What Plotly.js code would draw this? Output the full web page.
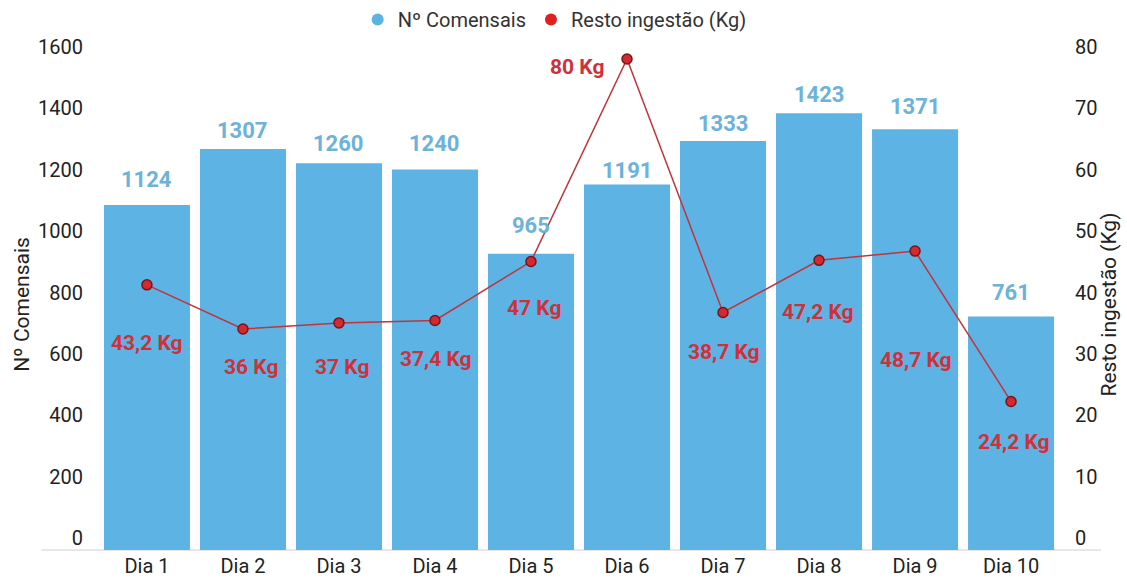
<!DOCTYPE html>
<html>
<head>
<meta charset="utf-8">
<script src="https://cdn.plot.ly/plotly-3.0.1.min.js"></script>
<style>html,body{margin:0;padding:0;background:#fff;}#chart{width:1127px;height:578px;}</style>
</head>
<body>
<div id="chart"></div>
<script>
// ---- data ----
const days = ['Dia 1','Dia 2','Dia 3','Dia 4','Dia 5','Dia 6','Dia 7','Dia 8','Dia 9','Dia 10'];
const comensais = [1124, 1307, 1260, 1240, 965, 1191, 1333, 1423, 1371, 761];
const resto = [43.2, 36, 37, 37.4, 47, 80, 38.7, 47.2, 48.7, 24.2];
const restoLabels = ['43,2 Kg','36 Kg','37 Kg','37,4 Kg','47 Kg','80 Kg','38,7 Kg','47,2 Kg','48,7 Kg','24,2 Kg'];
const leftTicks = [0, 200, 400, 600, 800, 1000, 1200, 1400, 1600];
const rightTicks = [0, 10, 20, 30, 40, 50, 60, 70, 80];

// ---- label placement (pixels) ----
const barLabelLift = [26, 18, 20, 26, 28, 14, 17, 19, 23, 24];
const restoLabelDx = [0, 8, 3, 1, 3, -50, 1, -1, 1, 3];
const restoLabelDy = [-58, -38, -44, -39, -46, -8, -40, -52, -109, -41];

const BLUE = '#5DB3E3';
const BLUE_TXT = '#6DB2D8';
const RED = '#D0303A';
const FONT = 'Roboto, "Noto Sans", Arial, sans-serif';

const traces = [
  {
    type: 'bar', x: days, y: comensais, name: 'Nº Comensais',
    marker: {color: BLUE}, showlegend: false, hoverinfo: 'x+y'
  },
  {
    type: 'scatter', mode: 'lines+markers', x: days, y: resto, yaxis: 'y2',
    name: 'Resto ingestão (Kg)', showlegend: false, cliponaxis: false,
    line: {color: '#C0343A', width: 1.5},
    marker: {size: 10, color: '#D12A30', line: {color: '#7A1418', width: 1.5}}
  },
  {
    type: 'scatter', mode: 'markers', x: [null], y: [null], name: 'Nº Comensais',
    marker: {size: 12, color: BLUE}, showlegend: true
  },
  {
    type: 'scatter', mode: 'markers', x: [null], y: [null], name: 'Resto ingestão (Kg)',
    marker: {size: 12, color: '#E02020'}, showlegend: true
  }
];

const annotations = [];
days.forEach((d, i) => {
  annotations.push({
    xref: 'x', yref: 'y', x: d, y: comensais[i], text: String(comensais[i]),
    showarrow: false, yanchor: 'middle', xanchor: 'center', yshift: barLabelLift[i],
    font: {family: FONT, size: 22, color: BLUE_TXT, weight: 'bold'}
  });
  annotations.push({
    xref: 'x', yref: 'y2', x: d, y: resto[i], text: restoLabels[i],
    showarrow: false, yanchor: 'middle', xanchor: 'center',
    xshift: restoLabelDx[i], yshift: restoLabelDy[i],
    font: {family: FONT, size: 21, color: RED, weight: 'bold'}
  });
});

const layout = {
  width: 1127, height: 578,
  margin: {l: 92, r: 61, t: 59, b: 28, autoexpand: false},
  paper_bgcolor: '#fff', plot_bgcolor: '#fff',
  font: {family: FONT, size: 20, color: '#222'},
  bargap: 0.104,
  showlegend: true,
  legend: {
    orientation: 'h', x: 0.475, xanchor: 'center', yref: 'container', y: 1.0, yanchor: 'top',
    font: {family: FONT, size: 20, color: '#333'}, itemsizing: 'constant', tracegroupgap: 0
  },
  xaxis: {
    showgrid: false, zeroline: false, showline: false, ticks: '', ticklabelstandoff: 2,
    tickfont: {family: FONT, size: 20, color: '#222'}
  },
  yaxis: {
    range: [0, 1600], tickvals: leftTicks, showgrid: false, zeroline: false, showline: false,
    ticks: '', ticklabelshift: -12, ticklabelstandoff: 8,
    tickfont: {family: FONT, size: 20, color: '#222'},
    title: {text: 'Nº Comensais', standoff: 2, font: {family: FONT, size: 21, color: '#222'}}
  },
  yaxis2: {
    range: [0, 80], tickvals: rightTicks, overlaying: 'y', side: 'right',
    showgrid: false, zeroline: false, showline: false, ticks: '',
    ticklabelshift: -12, ticklabelstandoff: 8,
    tickfont: {family: FONT, size: 20, color: '#222'},
    title: {text: 'Resto ingestão (Kg)', standoff: 4, font: {family: FONT, size: 21, color: '#222'}}
  },
  shapes: [{
    type: 'line', xref: 'paper', yref: 'paper', x0: -0.052, x1: 1.036, y0: 0, y1: 0,
    line: {color: '#D0D0D0', width: 1}, layer: 'below'
  }],
  annotations: annotations
};

Plotly.newPlot('chart', traces, layout, {displayModeBar: false, staticPlot: true});
</script>
</body>
</html>
